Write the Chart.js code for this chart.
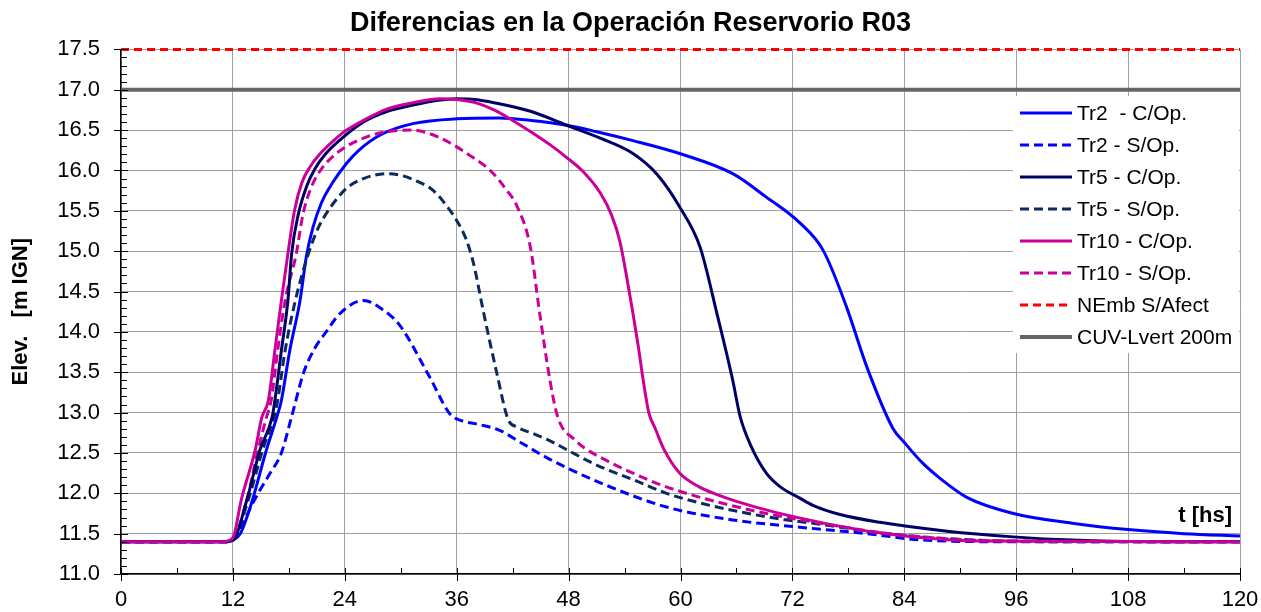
<!DOCTYPE html>
<html lang="es">
<head>
<meta charset="utf-8">
<title>Diferencias en la Operación Reservorio R03</title>
<script src="https://cdn.jsdelivr.net/npm/chart.js@4.4.1/dist/chart.umd.min.js"></script>
<style>
  html, body { margin: 0; padding: 0; background: #fff; }
  #contenedor { width: 1261px; height: 612px; position: relative; }
</style>
</head>
<body>
<div id="contenedor"><canvas id="grafico"></canvas></div>
<script>
// ===== DATOS =====
const tituloGrafico = "Diferencias en la Operación Reservorio R03";
const etiquetasSeries = ["Tr2  - C/Op.", "Tr2 - S/Op.", "Tr5 - C/Op.", "Tr5 - S/Op.",
  "Tr10 - C/Op.", "Tr10 - S/Op.", "NEmb S/Afect", "CUV-Lvert 200m"];

// Tr2 con operacion
const tTr2C = [0, 11, 12, 12.8, 14, 15.6, 16.7, 17.2, 18.1, 19.2, 19.9, 20.6, 21.5, 22.7, 24.2, 25.5, 27.8, 31.3, 36, 40.6, 44, 47.8, 51, 54.9, 59.9, 65.6, 69.2, 72.8, 75.3, 77.8, 80, 82.8, 84, 86, 88, 90.7, 95.7, 102, 108, 114, 120];
const eTr2C = [11.4, 11.4, 11.42, 11.5, 11.88, 12.54, 12.94, 13.15, 13.77, 14.39, 14.95, 15.3, 15.6, 15.85, 16.09, 16.25, 16.44, 16.58, 16.64, 16.65, 16.62, 16.56, 16.48, 16.37, 16.21, 15.96, 15.67, 15.35, 15.01, 14.31, 13.56, 12.8, 12.63, 12.37, 12.17, 11.95, 11.75, 11.63, 11.55, 11.5, 11.47];
// Tr2 sin operacion
const tTr2S = [0, 11.5, 12, 12.8, 13.8, 14.7, 16, 17.2, 18.3, 19.6, 20.8, 22, 23.5, 26, 28, 29.9, 33.1, 35.3, 36.5, 38.5, 40.6, 43, 46, 51.4, 58.5, 65.6, 72.8, 80, 86, 95, 120];
const eTr2S = [11.4, 11.4, 11.42, 11.55, 11.8, 12.0, 12.25, 12.5, 12.95, 13.5, 13.8, 14.0, 14.23, 14.39, 14.28, 14.08, 13.44, 12.98, 12.9, 12.85, 12.78, 12.62, 12.42, 12.13, 11.83, 11.67, 11.58, 11.5, 11.42, 11.4, 11.4];
// Tr5 con operacion
const tTr5C = [0, 11, 12, 13.5, 14.9, 16.2, 16.5, 17.2, 17.9, 18.3, 19.0, 19.9, 20.8, 21.9, 23.5, 26, 28.5, 31.3, 34, 36, 38, 40, 44, 47.8, 51.4, 54.9, 57.5, 59.9, 62.1, 63.9, 65.6, 66.4, 67.5, 69.2, 70.7, 72.8, 74.2, 77, 81.4, 88.6, 95.7, 102, 110, 120];
const eTr5C = [11.4, 11.4, 11.42, 11.92, 12.54, 12.94, 13.15, 13.77, 14.39, 14.97, 15.45, 15.8, 16.02, 16.2, 16.38, 16.6, 16.73, 16.81, 16.87, 16.89, 16.88, 16.84, 16.73, 16.56, 16.4, 16.21, 15.95, 15.55, 15.05, 14.23, 13.4, 12.95, 12.6, 12.25, 12.08, 11.94, 11.85, 11.74, 11.64, 11.53, 11.46, 11.42, 11.4, 11.4];
// Tr5 sin operacion
const tTr5S = [0, 11, 12, 13.6, 15.2, 16.4, 16.8, 17.6, 18.7, 20.1, 21.2, 22.5, 24.2, 26, 28.5, 30, 31.5, 33.5, 35, 36, 37, 37.8, 38.9, 40.3, 41.5, 42.5, 44.2, 46, 47.8, 51, 54.9, 58.5, 62.1, 69.2, 76, 82, 90, 100, 120];
const eTr5S = [11.4, 11.4, 11.42, 11.9, 12.54, 12.94, 13.15, 13.77, 14.39, 14.97, 15.3, 15.55, 15.78, 15.9, 15.96, 15.94, 15.88, 15.75, 15.55, 15.38, 15.15, 14.85, 14.23, 13.49, 12.92, 12.82, 12.74, 12.65, 12.54, 12.35, 12.17, 12.0, 11.88, 11.71, 11.6, 11.5, 11.43, 11.4, 11.4];
// Tr10 con operacion
const tTr10C = [0, 11, 12, 12.9, 14.4, 15.1, 15.8, 16.5, 17.2, 17.9, 18.6, 19.4, 20.3, 21.3, 23.1, 24.2, 26, 28.5, 31.3, 34.2, 36, 38, 40, 42, 44.2, 46, 47.8, 49.6, 51.4, 52.6, 53.5, 54.2, 54.9, 55.5, 56, 56.6, 57.3, 58.2, 59.9, 62, 64, 66, 70.3, 75, 80.7, 86, 92, 120];
const eTr10C = [11.4, 11.4, 11.45, 11.92, 12.54, 12.94, 13.15, 13.77, 14.39, 14.97, 15.5, 15.85, 16.05, 16.2, 16.4, 16.5, 16.62, 16.76, 16.84, 16.89, 16.88, 16.84, 16.75, 16.62, 16.46, 16.32, 16.16, 15.98, 15.72, 15.45, 15.12, 14.7, 14.23, 13.8, 13.4, 13.0, 12.8, 12.55, 12.25, 12.08, 11.98, 11.9, 11.76, 11.64, 11.52, 11.45, 11.41, 11.4];
// Tr10 sin operacion
const tTr10S = [0, 11, 12, 13.5, 14.7, 15.6, 16.1, 16.8, 17.6, 18.8, 19.5, 20.4, 21.5, 23.1, 24.2, 26, 28, 31.3, 33, 35.3, 37.5, 39.6, 41.2, 42.5, 43.9, 44.9, 46, 46.7, 47.3, 48.5, 49.6, 52, 54.9, 58, 62.1, 69.2, 75, 81, 88, 95, 120];
const eTr10S = [11.4, 11.4, 11.43, 11.92, 12.54, 12.94, 13.15, 13.77, 14.39, 14.97, 15.45, 15.79, 16.02, 16.21, 16.3, 16.4, 16.47, 16.5, 16.46, 16.34, 16.18, 16.0, 15.78, 15.55, 15.05, 14.23, 13.4, 13.0, 12.82, 12.68, 12.57, 12.41, 12.25, 12.1, 11.95, 11.75, 11.63, 11.52, 11.44, 11.41, 11.4];
// niveles de referencia
const tReferencia = [0, 120];
const eNEmb = [17.5, 17.5];
const eCUV = [17.0, 17.0];

// ejes
const ejeXMin = 0, ejeXMax = 120, ejeXPaso = 12;
const ejeYMin = 11.0, ejeYMax = 17.5, ejeYPaso = 0.5;

// ===== ARMADO =====
const fuente = "'Liberation Sans', Arial, sans-serif";
Chart.defaults.font.family = fuente;
Chart.defaults.color = "#000";

function puntos(t, e) {
  return t.map((v, i) => ({ x: v, y: e[i] }));
}

function serie(idx, t, e, color, guiones, ancho, orden) {
  return {
    label: etiquetasSeries[idx],
    data: puntos(t, e),
    borderColor: color,
    backgroundColor: color,
    borderWidth: ancho,
    borderDash: guiones,
    pointRadius: 0,
    fill: false,
    clip: 4,
    cubicInterpolationMode: "monotone",
    order: orden
  };
}

const guion = [9, 5];
const datasets = [
  serie(0, tTr2C, eTr2C, "#0000ff", [], 3, 5),
  serie(1, tTr2S, eTr2S, "#0000ff", guion, 3, 6),
  serie(2, tTr5C, eTr5C, "#000066", [], 3, 2),
  serie(3, tTr5S, eTr5S, "#0b2a5e", guion, 3, 4),
  serie(4, tTr10C, eTr10C, "#cc0099", [], 3, 1),
  serie(5, tTr10S, eTr10S, "#cc0099", guion, 3, 3),
  serie(6, tReferencia, eNEmb, "#ff0000", [8, 5], 3, 0),
  serie(7, tReferencia, eCUV, "#666666", [], 4, 7)
];

// marcas menores, leyenda interna y rotulo "t [hs]"
const extras = {
  id: "extras",
  afterDatasetsDraw(chart) {
    const ctx = chart.ctx;
    const area = chart.chartArea;
    const sx = chart.scales.x, sy = chart.scales.y;

    ctx.save();
    ctx.strokeStyle = "#000";
    ctx.lineWidth = 1;
    ctx.beginPath();
    for (let i = 0; i <= 65; i++) {
      const py = Math.round(sy.getPixelForValue(ejeYMin + i * 0.1)) + 0.5;
      if (i % 5 === 0) { ctx.moveTo(area.left - 7, py); ctx.lineTo(area.left + 7, py); }
      else { ctx.moveTo(area.left, py); ctx.lineTo(area.left + 6, py); }
    }
    for (let h = ejeXMin; h <= ejeXMax; h += 6) {
      const px = Math.round(sx.getPixelForValue(h)) + 0.5;
      if (h % 12 === 0) { ctx.moveTo(px, area.bottom - 6); ctx.lineTo(px, area.bottom + 7); }
      else { ctx.moveTo(px, area.bottom - 6); ctx.lineTo(px, area.bottom); }
    }
    ctx.stroke();

    // leyenda
    const x0 = area.right - 227, y0 = 96;
    ctx.fillStyle = "#fff";
    ctx.fillRect(x0, y0, 226, 257);
    ctx.font = "21px " + fuente;
    ctx.textBaseline = "middle";
    ctx.textAlign = "left";
    chart.data.datasets.forEach((ds, i) => {
      const y = 113 + i * 32;
      ctx.beginPath();
      ctx.strokeStyle = ds.borderColor;
      ctx.lineWidth = ds.borderWidth;
      ctx.setLineDash(ds.borderDash || []);
      ctx.moveTo(x0 + 7, y);
      ctx.lineTo(x0 + 59, y);
      ctx.stroke();
      ctx.setLineDash([]);
      ctx.fillStyle = "#000";
      ctx.fillText(ds.label, x0 + 64, y + 1);
    });

    ctx.font = "bold 22px " + fuente;
    ctx.textAlign = "right";
    ctx.fillStyle = "#000";
    ctx.fillText("t [hs]", area.right - 8, area.bottom - 58);
    ctx.restore();
  }
};

new Chart(document.getElementById("grafico"), {
  type: "line",
  data: { datasets: datasets },
  options: {
    responsive: true,
    maintainAspectRatio: false,
    animation: false,
    layout: { padding: 0 },
    plugins: {
      legend: { display: false },
      tooltip: { enabled: false },
      title: {
        display: true,
        text: tituloGrafico,
        color: "#000",
        font: { size: 27, weight: "bold" },
        padding: { top: 7, bottom: 10 }
      }
    },
    scales: {
      x: {
        type: "linear",
        min: ejeXMin,
        max: ejeXMax,
        afterFit: (s) => { s.height = 38; s.paddingLeft = 0; s.paddingRight = 21; },
        ticks: { stepSize: ejeXPaso, padding: 13, font: { size: 22 }, color: "#000" },
        grid: { color: "#a0a0a0", lineWidth: 1, drawTicks: false },
        border: { color: "#000", width: 1.5 }
      },
      y: {
        type: "linear",
        min: ejeYMin,
        max: ejeYMax,
        afterFit: (s) => { s.width = 121; },
        ticks: {
          stepSize: ejeYPaso,
          padding: 21,
          font: { size: 22 },
          color: "#000",
          callback: (v) => Number(v).toFixed(1)
        },
        grid: { color: "#a0a0a0", lineWidth: 1, drawTicks: false },
        border: { color: "#000", width: 1.5 },
        title: {
          display: true,
          text: "Elev.   [m IGN]",
          color: "#000",
          font: { size: 22, weight: "bold" },
          padding: { top: 8, bottom: 0 }
        }
      }
    }
  },
  plugins: [extras]
});
</script>
</body>
</html>
